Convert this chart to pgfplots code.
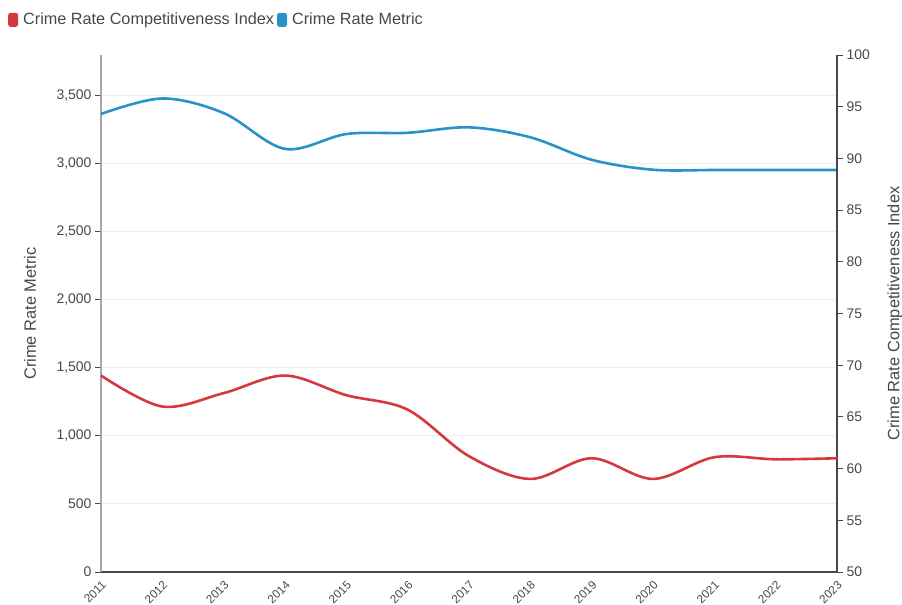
\documentclass[border=0pt]{standalone}
\usepackage{pgfplots}
\pgfplotsset{compat=1.18}
\usepackage{fontspec}
\setmainfont{Liberation Sans}
\definecolor{cblue}{RGB}{41,146,204}
\definecolor{cred}{RGB}{214,56,64}
\definecolor{txt}{RGB}{72,72,72}
\definecolor{gridc}{RGB}{236,236,236}
\pgfplotstableread{
year metric
2011 3361
2012 3475
2013 3368
2014 3105
2015 3214
2016 3223
2017 3263
2018 3190
2019 3025
2020 2952
2021 2950
2022 2950
2023 2950
}\metric
\pgfplotstableread{
year index
2011 69.0
2012 66.0
2013 67.3
2014 69.0
2015 67.1
2016 65.7
2017 61.2
2018 59.0
2019 61.0
2020 59.0
2021 61.1
2022 60.9
2023 61.0
}\cindex
\begin{document}
\begin{tikzpicture}
\pgfplotsset{
  common/.style={
    scale only axis, width=736bp, height=517bp,
    xmin=2011, xmax=2023,
    /pgf/number format/assume math mode=true,
    y tick label style={font=\fontsize{14}{15}\selectfont, color=txt},
    label style={font=\fontsize{16.5}{18}\selectfont, color=txt},
    tick align=outside, major tick length=6bp,
    clip=false,
  }
}
\path[use as bounding box] (-101bp,-33bp) rectangle (801bp,572bp);
\begin{axis}[common,
  axis y line*=left, axis x line*=bottom,
  xtick={2011,...,2023},
  x tick label style={/pgf/number format/1000 sep={}, rotate=45, anchor=north east, font=\fontsize{11.8}{13}\selectfont, color=txt, inner sep=1.2bp},
  xtick style={draw=none},
  ymin=0, ymax=3794, ytick={0,500,...,3500},
  y tick label style={/pgf/number format/1000 sep={,}},
  ymajorgrids, grid style={gridc, line width=0.8bp},
  y axis line style={color=gray!70, line width=1.2bp},
  x axis line style={color=txt, line width=1.2bp},
  ytick style={color=txt, line width=0.8bp},
  ylabel={Crime Rate Metric},
  y label style={at={(axis description cs:-0.0965,0.5)}, anchor=center},
]
\addplot[cblue, line width=2.6bp, smooth, tension=0.55] table[x=year, y=metric] {\metric};
\end{axis}
\begin{axis}[common,
  axis y line*=right, axis x line=none, xtick=\empty, xticklabels={},
  ymin=50, ymax=100, ytick={50,55,...,100},
  y axis line style={color=txt, line width=1.2bp},
  ytick style={color=txt, line width=0.8bp},
  ylabel={Crime Rate Competitiveness Index},
  y label style={at={(axis description cs:1.0788,0.5)}, anchor=center, rotate=0},
  legend style={at={(axis description cs:-0.1264,1.068)}, anchor=west, draw=none, fill=none,
    legend columns=-1, font=\fontsize{16.3}{18}\selectfont, text=txt, inner sep=0pt,
    /tikz/every even column/.append style={column sep=1bp}},
  legend cell align=left,
]
\addlegendimage{legend image code/.code={\fill[cred, draw=none, rounded corners=2.5bp] (0bp,-7bp) rectangle (10bp,7bp); \path[draw=none, fill=none] (13bp,0bp);}}
\addlegendentry{Crime Rate Competitiveness Index}
\addlegendimage{legend image code/.code={\fill[cblue, draw=none, rounded corners=2.5bp] (0bp,-7bp) rectangle (10bp,7bp); \path[draw=none, fill=none] (13bp,0bp);}}
\addlegendentry{Crime Rate Metric}
\addplot[cred, line width=2.6bp, smooth, tension=0.55, forget plot] table[x=year, y=index] {\cindex};
\end{axis}
\end{tikzpicture}
\end{document}
